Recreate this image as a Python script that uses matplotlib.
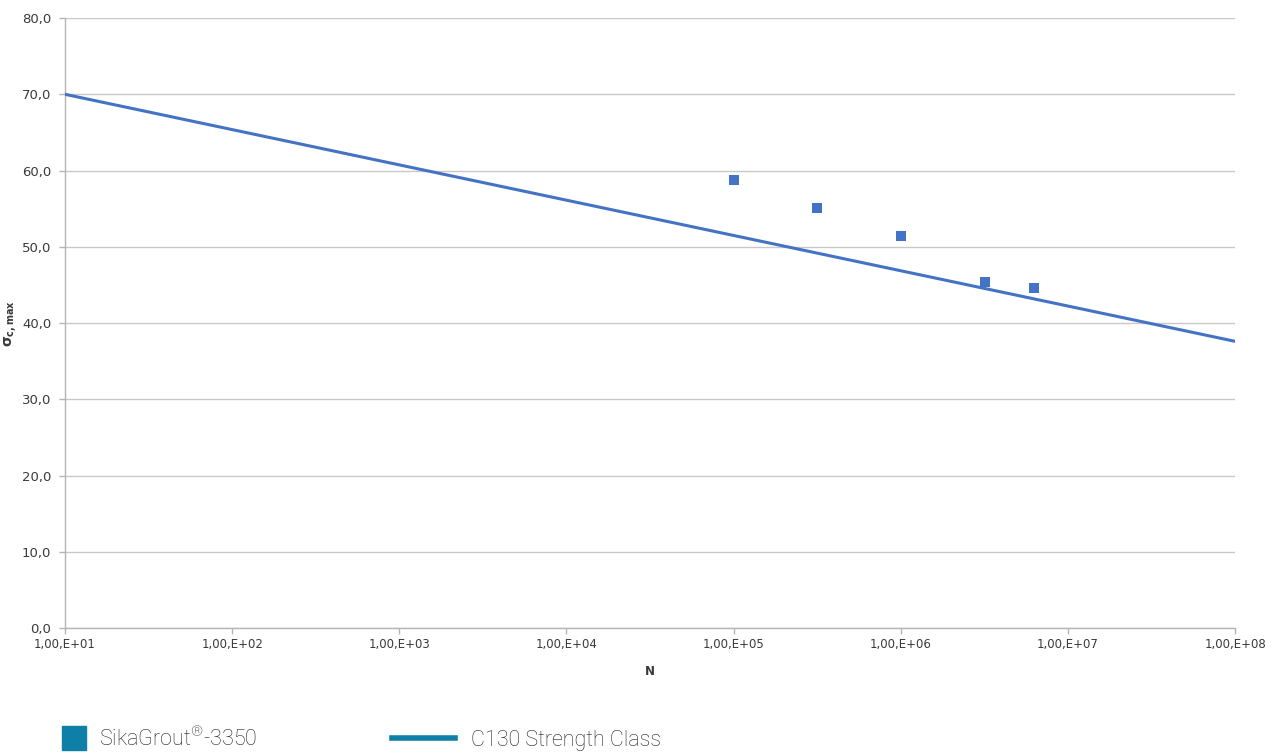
import matplotlib.pyplot as plt
from matplotlib.lines import Line2D
from matplotlib.ticker import FuncFormatter, FixedLocator, NullLocator
import numpy as np

plt.rcParams["mathtext.fontset"] = "custom"
plt.rcParams["mathtext.rm"] = "Roboto:light"
plt.rcParams["mathtext.it"] = "Roboto:light"
plt.rcParams["mathtext.bf"] = "DejaVu Sans:bold"

# test data
cycles = [1.0e5, 3.16e5, 1.0e6, 3.2e6, 6.3e6]
stress = [58.7, 55.1, 51.4, 45.4, 44.6]

# C130 strength class design line
line_n = [1.0e1, 1.0e8]
line_s = [70.0, 37.6]

x_ticks = [1e1, 1e2, 1e3, 1e4, 1e5, 1e6, 1e7, 1e8]
y_ticks = [0, 10, 20, 30, 40, 50, 60, 70, 80]

fig = plt.figure(figsize=(12.75, 7.53), dpi=100)
ax = fig.add_axes([0.051, 0.166, 0.9177, 0.81])

ax.plot(line_n, line_s, color="#4472C4", lw=2.2, zorder=3)
ax.scatter(cycles, stress, marker="s", s=55, color="#4472C4", zorder=4, linewidths=0)

ax.set_xscale("log")
ax.set_xlim(1e1, 1e8)
ax.set_ylim(0, 80)
ax.xaxis.set_major_locator(FixedLocator(x_ticks))
ax.xaxis.set_minor_locator(NullLocator())
ax.set_yticks(y_ticks)

def sci_comma(v, pos):
    e = int(round(np.log10(v)))
    return "1,00,E+%02d" % e

ax.xaxis.set_major_formatter(FuncFormatter(sci_comma))
ax.yaxis.set_major_formatter(FuncFormatter(lambda v, p: ("%.1f" % v).replace(".", ",")))

ax.grid(axis="y", color="#c8c8c8", lw=1.0)
ax.set_axisbelow(True)
for s in ["top", "right"]:
    ax.spines[s].set_visible(False)
for s in ["left", "bottom"]:
    ax.spines[s].set_color("#b4b4b4")
    ax.spines[s].set_linewidth(1.0)
ax.tick_params(axis="both", colors="#b4b4b4", labelcolor="#3a3a3a",
               labelsize=8.5, length=4, width=1.0)
ax.tick_params(axis="y", labelsize=9.5, pad=6)

ax.set_xlabel("N", fontsize=8.5, color="#3a3a3a", fontweight="bold", labelpad=10)
ax.set_ylabel("\u03c3$_{\\mathbf{c,max}}$", fontsize=10, color="#3a3a3a",
              fontweight="bold", labelpad=2)

leg_font = {"family": "Roboto", "weight": "light", "size": 15.5}
teal = "#0E7FA6"

leg1 = fig.legend([Line2D([], [], marker="s", ls="none", color=teal, markersize=17)],
                  ["SikaGrout$^{\u00ae}$-3350"],
                  loc="lower left", bbox_to_anchor=(0.0486, 0.003),
                  frameon=False, handlelength=1.1, handletextpad=0.6,
                  borderpad=0, borderaxespad=0, labelcolor="#222222", prop=leg_font)
leg2 = fig.legend([Line2D([], [], color=teal, lw=4)],
                  ["C130 Strength Class"],
                  loc="lower left", bbox_to_anchor=(0.3075, 0.003),
                  frameon=False, handlelength=2.93, handletextpad=0.75,
                  borderpad=0, borderaxespad=0, labelcolor="#222222", prop=leg_font)

fig.savefig("out.png", dpi=100)
